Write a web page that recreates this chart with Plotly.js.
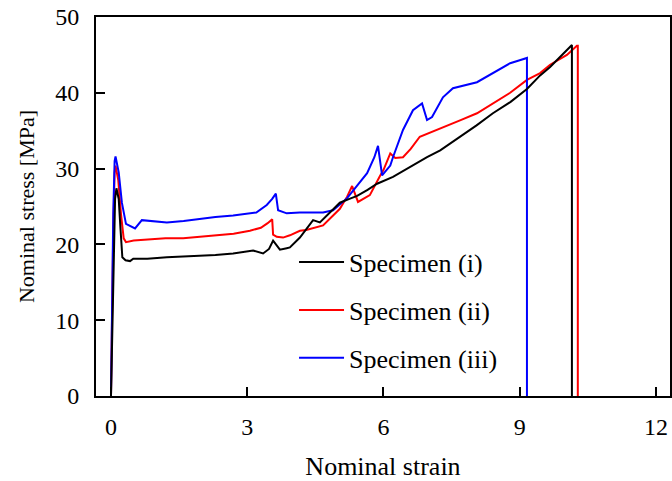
<!DOCTYPE html>
<html>
<head>
<meta charset="utf-8">
<script src="https://cdn.plot.ly/plotly-3.0.1.min.js"></script>
<style>html,body{margin:0;padding:0;background:#fff;}#chart{width:672px;height:481px;}</style>
</head>
<body>
<div id="chart"></div>
<script>
// Specimen (i) - black
const strainI = [0, 0.03, 0.06, 0.09, 0.12, 0.17, 0.21, 0.25, 0.32, 0.42, 0.49, 0.8, 1.23, 1.6, 1.96, 2.3, 2.69, 2.95, 3.13, 3.35, 3.48, 3.57, 3.65, 3.72, 3.87, 3.94, 4.16, 4.3, 4.45, 4.6, 4.75, 5.04, 5.25, 5.42, 5.65, 5.86, 6.21, 6.52, 6.96, 7.25, 7.69, 8.05, 8.41, 8.8, 9.16, 9.45, 9.67, 9.9, 10.15, 10.15];
const stressI = [0, 10, 20, 26, 27.4, 26, 22, 18.3, 17.9, 17.8, 18.1, 18.1, 18.3, 18.4, 18.5, 18.6, 18.8, 19.0, 19.2, 18.8, 19.4, 20.5, 19.8, 19.3, 19.5, 19.6, 20.9, 22.0, 23.2, 22.9, 23.8, 25.5, 26.0, 26.4, 27.2, 28.0, 28.9, 30.0, 31.5, 32.4, 34.2, 35.7, 37.3, 38.8, 40.5, 42.3, 43.4, 44.8, 46.3, 0];

// Specimen (ii) - red
const strainII = [0, 0.02, 0.05, 0.08, 0.1, 0.16, 0.22, 0.28, 0.33, 0.5, 0.86, 1.2, 1.59, 2.0, 2.33, 2.7, 3.06, 3.3, 3.45, 3.55, 3.57, 3.65, 3.79, 3.94, 4.16, 4.3, 4.67, 5.04, 5.2, 5.31, 5.44, 5.7, 5.92, 6.0, 6.15, 6.26, 6.43, 6.6, 6.8, 7.31, 7.7, 8.06, 8.4, 8.79, 9.16, 9.45, 9.67, 10.04, 10.26, 10.28, 10.28];
const stressII = [0, 10, 22, 29.5, 30.4, 28.5, 24, 20.8, 20.3, 20.5, 20.7, 20.8, 20.8, 21.0, 21.2, 21.4, 21.8, 22.2, 22.8, 23.3, 21.3, 21.0, 20.9, 21.2, 21.8, 21.9, 22.5, 24.7, 26.3, 27.7, 25.6, 26.5, 29.0, 29.8, 32.0, 31.4, 31.5, 32.6, 34.2, 35.5, 36.4, 37.3, 38.6, 40.0, 41.7, 42.6, 43.7, 45.0, 46.2, 46.2, 0];

// Specimen (iii) - blue
const strainIII = [0, 0.02, 0.05, 0.08, 0.1, 0.17, 0.24, 0.33, 0.45, 0.53, 0.68, 1.23, 1.6, 1.96, 2.3, 2.69, 3.2, 3.43, 3.55, 3.63, 3.68, 3.87, 4.16, 4.67, 4.89, 5.2, 5.45, 5.64, 5.8, 5.88, 5.97, 6.15, 6.21, 6.43, 6.65, 6.85, 6.96, 7.07, 7.31, 7.53, 8.06, 8.41, 8.79, 9.0, 9.14, 9.16, 9.16];
const stressIII = [0, 10, 24, 31, 31.6, 29.5, 25.5, 22.7, 22.3, 22.1, 23.2, 22.9, 23.1, 23.4, 23.6, 23.8, 24.2, 25.2, 26.0, 26.7, 24.5, 24.1, 24.2, 24.2, 24.5, 26.1, 28.0, 29.4, 31.5, 33.0, 29.1, 30.4, 31.5, 35.1, 37.7, 38.6, 36.4, 36.8, 39.4, 40.6, 41.4, 42.6, 43.9, 44.3, 44.6, 44.6, 0];

const seriesNames = ['Specimen (i)', 'Specimen (ii)', 'Specimen (iii)'];
const tickValsX = [0, 3, 6, 9, 12];
const tickValsY = [0, 10, 20, 30, 40, 50];

const font = 'Liberation Serif, Times New Roman, serif';
const traces = [
  {x: strainII, y: stressII, name: seriesNames[1], legendrank: 2, legendgroup: 'b', mode: 'lines', line: {color: '#ff0000', width: 2}},
  {x: strainIII, y: stressIII, name: seriesNames[2], legendrank: 3, legendgroup: 'c', mode: 'lines', line: {color: '#0000ff', width: 2}},
  {x: strainI, y: stressI, name: seriesNames[0], legendrank: 1, legendgroup: 'a', mode: 'lines', line: {color: '#000000', width: 2}}
];
const axisCommon = {
  showgrid: false, zeroline: false, showline: true, mirror: true,
  linecolor: '#000', linewidth: 2, ticks: 'inside', ticklen: 9, tickwidth: 2, tickcolor: '#000',
  tickfont: {family: font, size: 24, color: '#000'}
};
const layout = {
  width: 672, height: 481,
  margin: {l: 96, r: 2, t: 17, b: 85},
  paper_bgcolor: '#fff', plot_bgcolor: '#fff',
  showlegend: true,
  legend: {x: 0.345, y: 0.415, xanchor: 'left', yanchor: 'top', bgcolor: 'rgba(0,0,0,0)',
           font: {family: font, size: 26, color: '#000'}, traceorder: 'grouped', tracegroupgap: 11, itemwidth: 45},
  xaxis: Object.assign({}, axisCommon, {range: [-0.33, 12.31], tickvals: tickValsX, ticktext: tickValsX.map(String),
    ticklabelstandoff: 8,
    title: {text: 'Nominal strain', font: {family: font, size: 26, color: '#000'}, standoff: 22}}),
  yaxis: Object.assign({}, axisCommon, {range: [0, 50], tickvals: tickValsY, ticktext: tickValsY.map(String),
    ticklabelstandoff: 10,
    title: {text: 'Nominal stress [MPa]', font: {family: font, size: 22, color: '#000'}, standoff: 15}})
};
Plotly.newPlot('chart', traces, layout, {displayModeBar: false, staticPlot: true});
</script>
</body>
</html>
